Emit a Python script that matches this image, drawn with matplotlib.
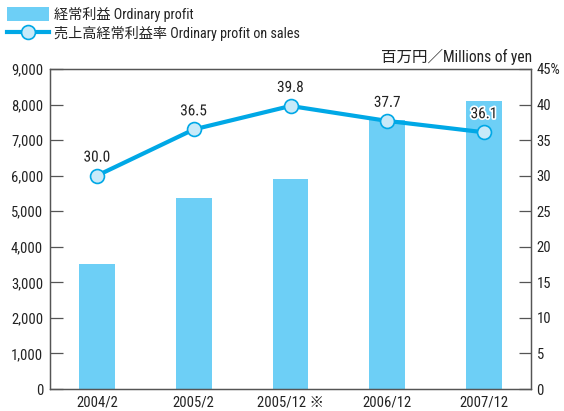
import matplotlib
matplotlib.use("Agg")
import matplotlib.pyplot as plt
import matplotlib.patheffects as pe
from matplotlib.lines import Line2D
from matplotlib.patches import Patch

categories = ["2004/2", "2005/2", "2005/12 ※", "2006/12", "2007/12"]
ordinary_profit = [3520, 5380, 5900, 7560, 8090]
profit_ratio = [30.0, 36.5, 39.8, 37.7, 36.1]
left_ticks = [0, 1000, 2000, 3000, 4000, 5000, 6000, 7000, 8000, 9000]
right_ticks = [0, 5, 10, 15, 20, 25, 30, 35, 40, 45]

fam = ["Roboto Condensed", "Archivo Narrow", "Noto Sans CJK JP", "DejaVu Sans"]
plt.rcParams["font.family"] = fam

bar_color = "#6DCFF6"
line_color = "#00A8E6"
marker_face = "#C8EAF9"
txt = "#222222"
spine_c = "#555555"

fig = plt.figure(figsize=(5.64, 4.11), dpi=100)
ax = fig.add_axes([50/564, 1-389/411, 481/564, 320/411])
x = list(range(len(categories)))
ax.bar(x, ordinary_profit, width=0.37, color=bar_color, zorder=2)
ax.set_xlim(-0.485, 4.485)
ax.set_ylim(0, 9000)
ax.set_yticks(left_ticks)
ax.set_yticklabels([f"{v:,}" for v in left_ticks], fontsize=10.5, color=txt)
ax.set_xticks(x)
ax.set_xticklabels(categories, fontsize=10.5, color=txt)
ax.tick_params(axis="y", direction="in", length=9, width=0.9, color=spine_c, pad=5)
ax.tick_params(axis="x", length=0, pad=5)
for s in ax.spines.values():
    s.set_color(spine_c)
    s.set_linewidth(0.9)

ax2 = ax.twinx()
ax2.set_ylim(0, 45)
ax2.set_yticks(right_ticks)
labels = [str(v) for v in right_ticks]
labels[-1] = "45%"
ax2.set_yticklabels(labels, fontsize=10.5, color=txt)
ax2.tick_params(axis="y", direction="in", length=9, width=0.9, color=spine_c, pad=4)
for s in ax2.spines.values():
    s.set_color(spine_c)
    s.set_linewidth(0.9)
ax2.plot(x, profit_ratio, color=line_color, lw=3, marker="o", ms=10,
         mfc=marker_face, mec=line_color, mew=1.2, zorder=3)
for xi, v in zip(x, profit_ratio):
    ax2.annotate(f"{v:.1f}", (xi, v), xytext=(0, 8), textcoords="offset points",
                 ha="center", va="bottom", fontsize=11, color=txt,
                 path_effects=[pe.withStroke(linewidth=2.5, foreground="white")])

handles = [Patch(facecolor=bar_color, edgecolor="none"),
           Line2D([0], [0], color=line_color, lw=3, marker="o", ms=10,
                  mfc=marker_face, mec=line_color, mew=1.2)]
fig.legend(handles, ["経常利益 Ordinary profit", "売上高経常利益率 Ordinary profit on sales"],
           loc="upper left", bbox_to_anchor=(7/564, 1-7/411), frameon=False,
           prop={"size": 10.2},
           handlelength=3.0, handleheight=1.15, handletextpad=0.35, labelspacing=0.25,
           borderaxespad=0, borderpad=0, labelcolor=txt)
fig.text(532/564, 1-57/411, "百万円／Millions of yen", ha="right", va="center",
         fontsize=11.2, color=txt)
fig.savefig("out.png", dpi=100)
